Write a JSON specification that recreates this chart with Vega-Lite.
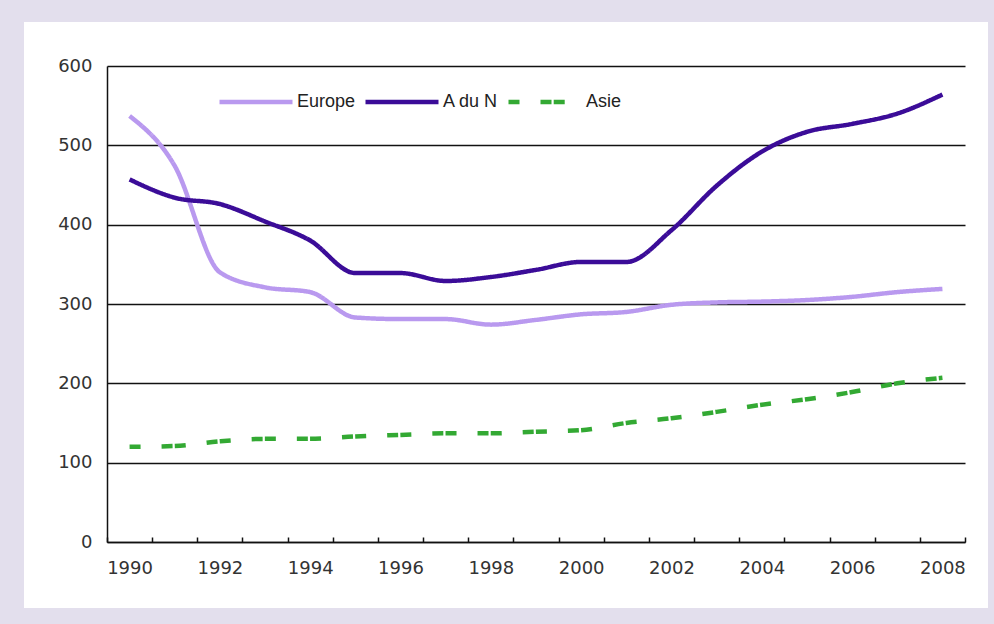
{
  "$schema": "https://vega.github.io/schema/vega-lite/v6.json",
  "width": 964,
  "height": 586,
  "autosize": {"type": "none"},
  "padding": {"left": 24, "top": 22, "right": 6, "bottom": 16},
  "background": "#e3dfed",
  "config": {
    "view": {"fill": "white", "stroke": null},
    "axis": {"labelFont": "DejaVu Sans", "labelFontSize": 18, "labelColor": "#333333", "domainColor": "#111111", "domainWidth": 1.5, "title": null}
  },
  "data": {
    "values": [
      {"year": 1990, "series": "Europe", "value": 537},
      {"year": 1991, "series": "Europe", "value": 474},
      {"year": 1992, "series": "Europe", "value": 340},
      {"year": 1993, "series": "Europe", "value": 321},
      {"year": 1994, "series": "Europe", "value": 315},
      {"year": 1995, "series": "Europe", "value": 283},
      {"year": 1996, "series": "Europe", "value": 281},
      {"year": 1997, "series": "Europe", "value": 281},
      {"year": 1998, "series": "Europe", "value": 274},
      {"year": 1999, "series": "Europe", "value": 280},
      {"year": 2000, "series": "Europe", "value": 287},
      {"year": 2001, "series": "Europe", "value": 290},
      {"year": 2002, "series": "Europe", "value": 299},
      {"year": 2003, "series": "Europe", "value": 302},
      {"year": 2004, "series": "Europe", "value": 303},
      {"year": 2005, "series": "Europe", "value": 305},
      {"year": 2006, "series": "Europe", "value": 309},
      {"year": 2007, "series": "Europe", "value": 315},
      {"year": 2008, "series": "Europe", "value": 319},
      {"year": 1990, "series": "A du N", "value": 457},
      {"year": 1991, "series": "A du N", "value": 434},
      {"year": 1992, "series": "A du N", "value": 426},
      {"year": 1993, "series": "A du N", "value": 404},
      {"year": 1994, "series": "A du N", "value": 380},
      {"year": 1995, "series": "A du N", "value": 339},
      {"year": 1996, "series": "A du N", "value": 339},
      {"year": 1997, "series": "A du N", "value": 329},
      {"year": 1998, "series": "A du N", "value": 334},
      {"year": 1999, "series": "A du N", "value": 343},
      {"year": 2000, "series": "A du N", "value": 353},
      {"year": 2001, "series": "A du N", "value": 353},
      {"year": 2002, "series": "A du N", "value": 393},
      {"year": 2003, "series": "A du N", "value": 449},
      {"year": 2004, "series": "A du N", "value": 492},
      {"year": 2005, "series": "A du N", "value": 517},
      {"year": 2006, "series": "A du N", "value": 527},
      {"year": 2007, "series": "A du N", "value": 540},
      {"year": 2008, "series": "A du N", "value": 564},
      {"year": 1990, "series": "Asie", "value": 120},
      {"year": 1991, "series": "Asie", "value": 121},
      {"year": 1992, "series": "Asie", "value": 127},
      {"year": 1993, "series": "Asie", "value": 130},
      {"year": 1994, "series": "Asie", "value": 130},
      {"year": 1995, "series": "Asie", "value": 133},
      {"year": 1996, "series": "Asie", "value": 135},
      {"year": 1997, "series": "Asie", "value": 137},
      {"year": 1998, "series": "Asie", "value": 137},
      {"year": 1999, "series": "Asie", "value": 139},
      {"year": 2000, "series": "Asie", "value": 141},
      {"year": 2001, "series": "Asie", "value": 150},
      {"year": 2002, "series": "Asie", "value": 156},
      {"year": 2003, "series": "Asie", "value": 164},
      {"year": 2004, "series": "Asie", "value": 173},
      {"year": 2005, "series": "Asie", "value": 180},
      {"year": 2006, "series": "Asie", "value": 189},
      {"year": 2007, "series": "Asie", "value": 200},
      {"year": 2008, "series": "Asie", "value": 207}
    ]
  },
  "mark": {"type": "line", "interpolate": "monotone", "strokeWidth": 4.5, "strokeCap": "butt"},
  "encoding": {
    "x": {
      "field": "year",
      "type": "ordinal",
      "bandPosition": 0.5,
      "scale": {"type": "band", "paddingInner": 0, "paddingOuter": 0, "range": [83, 941]},
      "axis": {
        "orient": "bottom",
        "offset": -66,
        "labelAngle": 0,
        "tickBand": "extent",
        "ticks": true,
        "tickSize": -5,
        "tickColor": "#111111",
        "tickWidth": 1.5,
        "labelPadding": 22,
        "labelExpr": "datum.value % 2 === 0 ? datum.label : ''",
        "grid": false
      }
    },
    "y": {
      "field": "value",
      "type": "quantitative",
      "scale": {"domain": [0, 600], "range": [520, 44], "nice": false, "zero": true},
      "axis": {
        "orient": "left",
        "offset": -83,
        "values": [0, 100, 200, 300, 400, 500, 600],
        "ticks": false,
        "labelPadding": 15,
        "grid": true,
        "gridColor": "#111111",
        "gridWidth": 1.3
      }
    },
    "color": {
      "field": "series",
      "type": "nominal",
      "scale": {"domain": ["Europe", "A du N", "Asie"], "range": ["#b999ef", "#3b0c98", "#33a933"]},
      "legend": {
        "title": null,
        "orient": "none",
        "direction": "horizontal",
        "legendX": 193,
        "legendY": 41,
        "symbolType": "stroke",
        "symbolSize": 5329,
        "symbolStrokeWidth": 4.5,
        "labelFont": "Liberation Sans",
        "labelFontSize": 18,
        "labelColor": "#222222",
        "labelOffset": 2,
        "columnPadding": 0,
        "padding": 0
      }
    },
    "strokeDash": {
      "field": "series",
      "type": "nominal",
      "scale": {"domain": ["Europe", "A du N", "Asie"], "range": [[1, 0], [1, 0], [11, 21, 11, 2.2]]},
      "legend": {
        "title": null,
        "orient": "none",
        "direction": "horizontal",
        "legendX": 193,
        "legendY": 41,
        "symbolType": "stroke",
        "symbolSize": 5329,
        "symbolStrokeWidth": 4.5,
        "labelFont": "Liberation Sans",
        "labelFontSize": 18,
        "labelColor": "#222222",
        "labelOffset": 2,
        "columnPadding": 0,
        "padding": 0
      }
    }
  }
}
